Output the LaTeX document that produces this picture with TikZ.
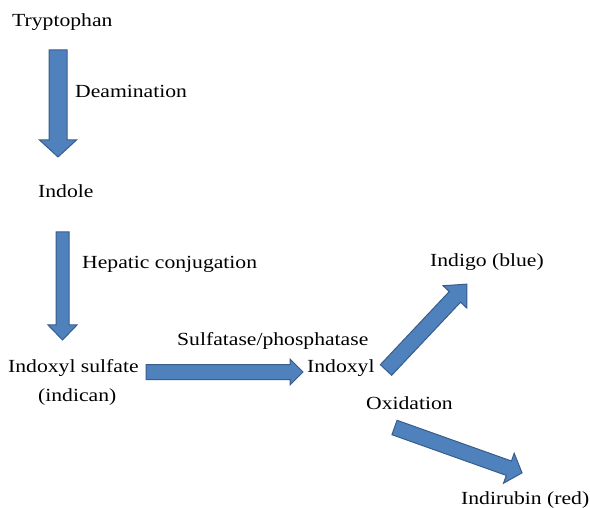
\documentclass[tikz,border=0pt]{standalone}
\usepackage{fontspec}
\setmainfont{Liberation Serif}[FakeStretch=1.17]
\begin{document}
\begin{tikzpicture}[x=1pt,y=-1pt,
  lbl/.style={anchor=base west,inner sep=0pt,font=\fontsize{18.5}{20}\selectfont},
  arrowbox/.style={fill=arrowfill,draw=arrowdraw,line width=1pt,line join=miter}]
\definecolor{arrowfill}{HTML}{4F81BD}
\definecolor{arrowdraw}{HTML}{385D8A}
\useasboundingbox (0,0) rectangle (590,508);
\newcommand\barrow[6]{%
  \begin{scope}[shift={(#1)},rotate=#2]
    \pgfmathsetmacro\sw{#4/2}\pgfmathsetmacro\hw{#5/2}\pgfmathsetmacro\hb{#3-#6}
    \draw[arrowbox] (0,-\sw) -- (\hb,-\sw) -- (\hb,-\hw) -- (#3,0) -- (\hb,\hw) -- (\hb,\sw) -- (0,\sw) -- cycle;
  \end{scope}}
% arrows
\barrow{58,50}{-90}{107}{18}{37}{17}
\barrow{62.5,232}{-90}{108}{13}{29}{15}
\barrow{146,372}{0}{157}{15}{26}{13}
\barrow{386,370}{46.7}{118}{15.5}{32.5}{17.5}
\barrow{394.5,427.5}{-19.6}{135.4}{15.3}{31.8}{14}
% labels
\node[lbl] (trp) at (12,26.5) {Tryptophan};
\node[lbl] (deam) at (75,97.5) {Deamination};
\node[lbl] (ind) at (38,198) {Indole};
\node[lbl] (hep) at (82,268.5) {Hepatic conjugation};
\node[lbl] (ins) at (8,373) {Indoxyl sulfate};
\node[lbl] (indc) at (38,402) {(indican)};
\node[lbl] (sulf) at (177,345) {Sulfatase/phosphatase};
\node[lbl] (inx) at (307,373) {Indoxyl};
\node[lbl] (indg) at (430,267) {Indigo (blue)};
\node[lbl] (oxi) at (366,409) {Oxidation};
\node[lbl] (indr) at (461,504) {Indirubin (red)};
\end{tikzpicture}
\end{document}
